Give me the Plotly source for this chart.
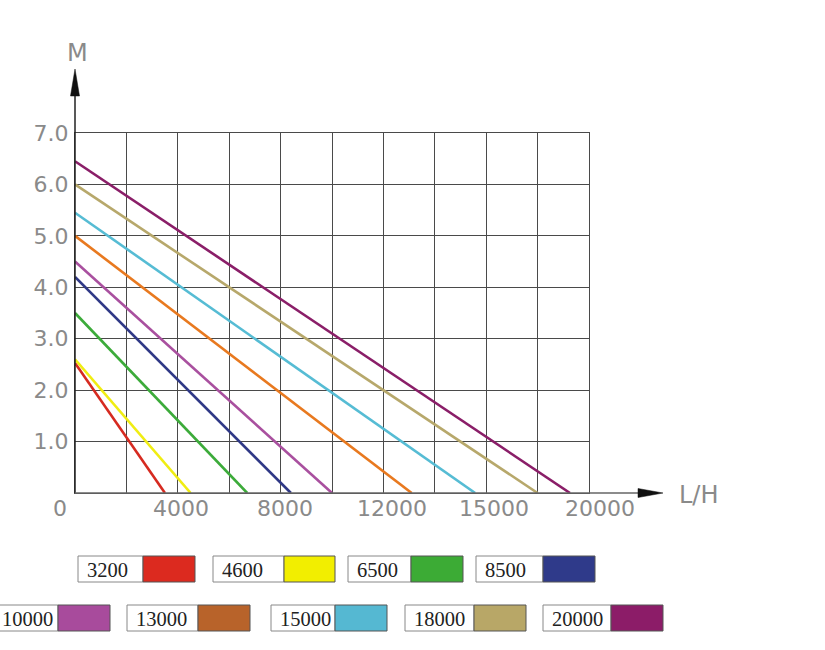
import plotly.graph_objects as go

# ---- data ----
models = ['3200', '4600', '6500', '8500', '10000', '13000', '15000', '18000', '20000']
max_head = [2.53, 2.6, 3.5, 4.2, 4.5, 5.0, 5.45, 6.0, 6.45]          # M at 0 L/H
max_flow = [3500, 4500, 6700, 8400, 10000, 13100, 15570, 18000, 19260]  # L/H at 0 M
line_colors = ['#d62a20', '#f0ed12', '#3cab3a', '#2f3886', '#a9509f',
               '#e8791f', '#56bcd4', '#b7a86b', '#8a1e68']
swatch_colors = ['#dc2a1f', '#f2ee00', '#3cab35', '#2f3a8a', '#a84b9c',
                 '#b8632a', '#55b8d2', '#b8a767', '#8c1c68']

x_gridvals = [0, 2000, 4000, 6000, 8000, 10000, 12000, 14000, 16000, 18000, 20000]
x_labelvals = [0, 4000, 8000, 12000, 16000, 20000]
x_labeltext = ['0', '4000', '8000', '12000', '15000', '20000']
y_tickvals = [0, 1, 2, 3, 4, 5, 6, 7]
y_ticktext = ['', '1.0', '2.0', '3.0', '4.0', '5.0', '6.0', '7.0']

# ---- layout geometry (pixels) ----
W, H = 825, 650
L, R, T, B = 75, 589, 133, 493
x_label_shift = [-15, 3, 4, 9, 8, 11]


def px(x):
    return (x - L) / (R - L)


def py(y):
    return (B - y) / (B - T)


fig = go.Figure()
for m, h, q, c in zip(models, max_head, max_flow, line_colors):
    fig.add_trace(go.Scatter(x=[0, q], y=[h, 0], mode='lines', name=m,
                             line=dict(color=c, width=2.6), showlegend=False))

tick_font = dict(family='DejaVu Sans', size=22, color='#8a8a8a')
grid_col = '#4a4a4a'
fig.update_xaxes(range=[0, 20000], tickmode='array', tickvals=x_gridvals,
                 ticktext=[''] * len(x_gridvals),
                 showgrid=True, gridcolor=grid_col, gridwidth=1, zeroline=False,
                 showline=True, mirror=True, linecolor=grid_col, linewidth=1,
                 ticks='', fixedrange=True)
fig.update_yaxes(range=[0, 7], tickmode='array', tickvals=y_tickvals, ticktext=y_ticktext,
                 showgrid=True, gridcolor=grid_col, gridwidth=1, zeroline=False,
                 showline=True, mirror=True, linecolor=grid_col, linewidth=1,
                 ticks='', tickfont=tick_font, ticklabelstandoff=1, fixedrange=True)

shapes = []
annotations = []
# x tick labels
for v, t, s in zip(x_labelvals, x_labeltext, x_label_shift):
    annotations.append(dict(xref='x', yref='paper', x=v, y=py(508), text=t, showarrow=False,
                            xanchor='center', yanchor='middle', xshift=s, font=tick_font))

# axis lines with arrows
shapes.append(dict(type='line', xref='paper', yref='paper', x0=0, y0=0, x1=0, y1=py(90),
                   line=dict(color='#222', width=1.5)))
shapes.append(dict(type='line', xref='paper', yref='paper', x0=0, y0=0, x1=px(645), y1=0,
                   line=dict(color='#666', width=1.5)))
shapes.append(dict(type='path', xref='paper', yref='paper',
                   path=f'M {px(75)} {py(69)} L {px(70.5)} {py(96)} L {px(79.5)} {py(96)} Z',
                   fillcolor='#111', line=dict(color='#111', width=0.5)))
shapes.append(dict(type='path', xref='paper', yref='paper',
                   path=f'M {px(663)} {py(493)} L {px(638)} {py(488.5)} L {px(638)} {py(497.5)} Z',
                   fillcolor='#111', line=dict(color='#111', width=0.5)))

label_font = dict(family='DejaVu Sans', size=24, color='#8a8a8a')
annotations.append(dict(xref='paper', yref='paper', x=px(77), y=py(53), text='M', showarrow=False,
                        xanchor='center', yanchor='middle', font=label_font))
annotations.append(dict(xref='paper', yref='paper', x=px(677), y=py(495), text='L/H', showarrow=False,
                        xanchor='left', yanchor='middle', font=label_font))

# legend boxes: (text box left, swatch left, swatch right, row top, row bottom)
legend_pos = [
    (78, 143, 195, 556, 582), (213, 284, 335, 556, 582), (348, 411, 463, 556, 582),
    (476, 543, 595, 556, 582),
    (-13, 58, 110, 605, 631), (127, 198, 250, 605, 631), (271, 335, 387, 605, 631),
    (405, 474, 526, 605, 631), (543, 611, 663, 605, 631),
]
for m, c, (x0, x1, x2, y0, y1) in zip(models, swatch_colors, legend_pos):
    shapes.append(dict(type='rect', xref='paper', yref='paper', x0=px(x0), x1=px(x1),
                       y0=py(y1), y1=py(y0), fillcolor='white', line=dict(color='#888', width=1)))
    shapes.append(dict(type='rect', xref='paper', yref='paper', x0=px(x1), x1=px(x2),
                       y0=py(y1), y1=py(y0), fillcolor=c, line=dict(color='#555', width=1)))
    tx = x0 + 7 if x0 > 0 else 0
    annotations.append(dict(xref='paper', yref='paper', x=px(tx), y=py((y0 + y1) / 2 + 1),
                            text=m, showarrow=False, xanchor='left', yanchor='middle',
                            font=dict(family='Liberation Serif', size=20.5, color='#222')))

fig.update_layout(width=W, height=H, margin=dict(l=L, r=W - R, t=T, b=H - B, pad=0),
                  plot_bgcolor='white', paper_bgcolor='white', shapes=shapes,
                  annotations=annotations, showlegend=False)

fig.write_html('out.html', config={'displayModeBar': False},
               post_script="document.body.style.margin='0';document.body.style.padding='0';")
